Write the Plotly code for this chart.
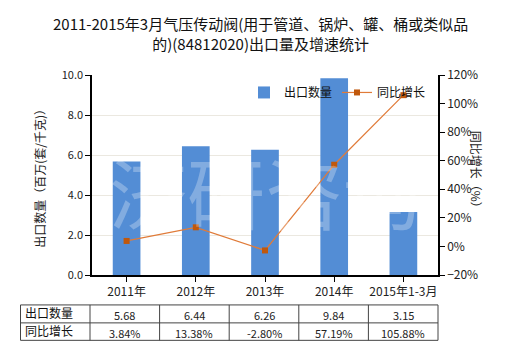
import plotly.graph_objects as go

categories = ["2011年", "2012年", "2013年", "2014年", "2015年1-3月"]
export_qty = [5.68, 6.44, 6.26, 9.84, 3.15]
yoy_growth = [3.84, 13.38, -2.80, 57.19, 105.88]
qty_labels = ["5.68", "6.44", "6.26", "9.84", "3.15"]
growth_labels = ["3.84%", "13.38%", "-2.80%", "57.19%", "105.88%"]
row_names = ["出口数量", "同比增长"]
title_text = "2011-2015年3月气压传动阀(用于管道、锅炉、罐、桶或类似品<br>的)(84812020)出口量及增速统计"

FONT = "Noto Sans CJK SC, Microsoft YaHei, sans-serif"
W, H = 520, 350
L, R, T, B = 92, 438, 74.5, 275

fig = go.Figure()
fig.add_trace(go.Bar(
    x=categories, y=export_qty, name="出口数量",
    marker=dict(color="#538dd5", line=dict(width=0)), width=0.4,
))
fig.add_trace(go.Scatter(
    x=categories, y=yoy_growth, name="同比增长", yaxis="y2",
    mode="lines+markers",
    line=dict(color="#e07b39", width=1.2),
    marker=dict(symbol="square", size=6, color="#c0580c"),
))

def px(x):
    return (x - L) / (R - L)

def py(y):
    return (B - y) / (B - T)

fig.update_layout(
    width=W, height=H,
    margin=dict(l=L, r=W - R, t=T, b=H - B, pad=0),
    paper_bgcolor="white", plot_bgcolor="white",
    font=dict(family=FONT, size=11, color="#222"),
    showlegend=True,
    legend=dict(orientation="h", x=px(244), y=py(92), xanchor="left", yanchor="middle",
                font=dict(size=12, color="#111"), bgcolor="rgba(0,0,0,0)",
                traceorder="normal", entrywidth=48, entrywidthmode="pixels"),
    xaxis=dict(showline=True, linecolor="#000", linewidth=1.5, ticks="outside",
               ticklen=5, tickcolor="#000", tickfont=dict(size=12),
               showgrid=False, range=[-0.5, 4.5]),
    yaxis=dict(range=[0, 10], dtick=2, tickformat=".1f", showline=True,
               linecolor="#000", linewidth=1.5, ticks="outside", ticklen=5,
               tickcolor="#000", gridcolor="#ebe8e0", gridwidth=1,
               tickfont=dict(size=11), zeroline=False),
    yaxis2=dict(range=[-20, 120], dtick=20, ticksuffix="%", overlaying="y",
                side="right", showline=True, linecolor="#000", linewidth=1.5,
                ticks="outside", ticklen=5, tickcolor="#000", showgrid=False,
                tickfont=dict(size=12), zeroline=False),
)

ann = []
ann.append(dict(text=title_text, x=px(260), y=py(33), xref="paper", yref="paper",
                xanchor="center", yanchor="middle", showarrow=False,
                font=dict(size=15, color="#111", family=FONT), align="center"))
ann.append(dict(text="出口数量（百万(套/千克)）", x=px(29), y=py(175), xref="paper",
                yref="paper", textangle=-90, showarrow=False,
                font=dict(size=12, color="#222", family=FONT)))
ann.append(dict(text="同比增长（%）", x=px(487), y=py(172), xref="paper",
                yref="paper", textangle=90, showarrow=False,
                font=dict(size=12, color="#222", family=FONT)))
ann.append(dict(text="济研咨询", x=px(265), y=py(190), xref="paper", yref="paper",
                showarrow=False, font=dict(size=78, color="rgba(255,255,255,0.28)",
                family=FONT)))

# table below the chart
tl, tr = 20.5, 438
c0 = 90
rows_y = [305, 323, 340.5]
shapes = []
shapes.append(dict(type="rect", xref="paper", yref="paper", x0=px(tl), x1=px(tr),
                   y0=py(rows_y[0]), y1=py(rows_y[2]), line=dict(color="#444", width=1)))
shapes.append(dict(type="line", xref="paper", yref="paper", x0=px(tl), x1=px(tr),
                   y0=py(rows_y[1]), y1=py(rows_y[1]), line=dict(color="#444", width=1)))
n = len(categories)
cw = (tr - c0) / n
xs = [c0 + i * cw for i in range(n)]
for xv in xs:
    shapes.append(dict(type="line", xref="paper", yref="paper", x0=px(xv), x1=px(xv),
                       y0=py(rows_y[0]), y1=py(rows_y[2]), line=dict(color="#444", width=1)))
for r, (name, labels) in enumerate(zip(row_names, [qty_labels, growth_labels])):
    yc = (rows_y[r] + rows_y[r + 1]) / 2
    ann.append(dict(text=name, x=px(tl + 2), y=py(yc - 1), xref="paper", yref="paper",
                    xanchor="left", yanchor="middle", showarrow=False,
                    font=dict(size=12, color="#111", family=FONT)))
    for i, lab in enumerate(labels):
        ann.append(dict(text=lab, x=px(xs[i] + cw / 2), y=py(yc + 1), xref="paper",
                        yref="paper", xanchor="center", yanchor="middle",
                        showarrow=False, font=dict(size=11, color="#222", family=FONT)))

fig.update_layout(annotations=ann, shapes=shapes)
fig.write_html("out.html")
